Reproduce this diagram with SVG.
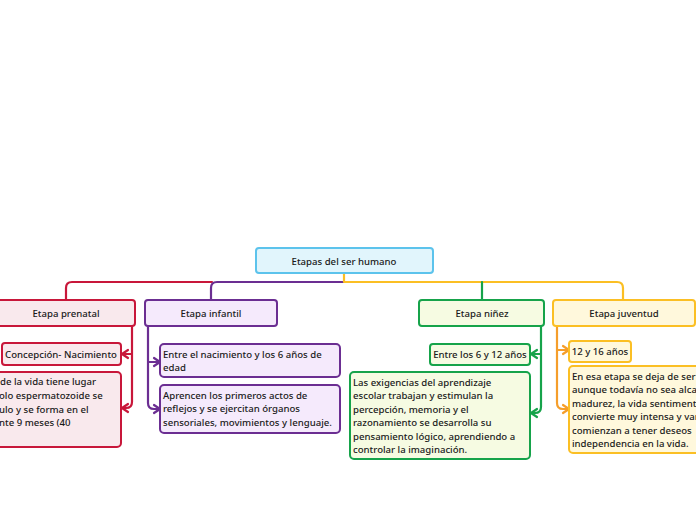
<svg xmlns="http://www.w3.org/2000/svg" width="696" height="520" viewBox="0 0 696 520">
<defs>
<style>
text{font-family:"Noto Sans","Open Sans","DejaVu Sans",sans-serif;font-size:9.6px;fill:#1a1a1a;font-weight:500}
.c{text-anchor:middle}
.ln{fill:none;stroke-width:2.2;stroke-linejoin:round;stroke-linecap:round}
.red{stroke:#c8173a}.pur{stroke:#6b2e92}.grn{stroke:#16a34a}.yel{stroke:#fbbf24}.org{stroke:#f59e2b}
.bx{stroke-width:2}
</style>
</defs>
<rect width="696" height="520" fill="#ffffff"/>
<g id="connectors">
<path class="ln red" d="M212 282 H72 Q66 282 66 288 V300"/>
<path class="ln pur" d="M344 282 H217 Q211 282 211 288 V300"/>
<path class="ln yel" d="M344 273 V282 H617 Q623 282 623 288 V300"/>
<path class="ln grn" d="M482 282 V300"/>
<path class="ln red" d="M132 326 V402 Q132 408 126 408 H122 M132 354 H122 M128 350 L122 354 L128 358 M128 404 L122 408 L128 412"/>
<path class="ln pur" d="M148 326 V403 Q148 409 154 409 H160 M148 362 H160 M154 358 L160 362 L154 366 M154 405 L160 409 L154 413"/>
<path class="ln grn" d="M541 326 V407 Q541 413 535 413 H531 M541 354 H531 M537 350 L531 354 L537 358 M537 409 L531 413 L537 417"/>
<path class="ln org" d="M557 326 V403 Q557 409 563 409 H569 M557 350 H569 M563 346 L569 350 L563 354 M563 405 L569 409 L563 413"/>
</g>
<g id="root">
<rect x="256" y="248" width="177" height="25" rx="3" fill="#e1f5fc" stroke="#5cc3ec" class="bx"/>
<text x="344" y="264.5" class="c">Etapas del ser humano</text>
</g>
<g id="prenatal">
<rect x="-10" y="300" width="145" height="26" rx="3" fill="#f9e9ed" stroke="#c8173a" class="bx"/>
<text x="66" y="316.5" class="c">Etapa prenatal</text>
</g>
<g id="concepcion">
<rect x="2" y="343" width="119" height="22" rx="3" fill="#f9e9ed" stroke="#c8173a" class="bx"/>
<text x="61" y="357.5" class="c">Concepción- Nacimiento</text>
</g>
<g id="prenatal-texto">
<rect x="-10" y="372" width="131" height="75" rx="4" fill="#f9e9ed" stroke="#c8173a" class="bx"/>
<text x="0" y="385">de la vida tiene lugar</text>
<text x="-1" y="399">olo  espermatozoide se</text>
<text x="-1" y="413">ulo y se forma en el</text>
<text x="-1" y="426">nte 9 meses (40</text>
</g>
<g id="infantil">
<rect x="145" y="300" width="132" height="26" rx="3" fill="#f5eafc" stroke="#6b2e92" class="bx"/>
<text x="211" y="316.5" class="c">Etapa infantil</text>
</g>
<g id="infantil-edad">
<rect x="160" y="344" width="180" height="33" rx="4" fill="#f5eafc" stroke="#6b2e92" class="bx"/>
<text x="163" y="358">Entre el nacimiento y los 6 años de</text>
<text x="163" y="371">edad</text>
</g>
<g id="infantil-texto">
<rect x="160" y="385" width="180" height="48" rx="4" fill="#f5eafc" stroke="#6b2e92" class="bx"/>
<text x="163" y="398.5">Aprencen los primeros actos de</text>
<text x="163" y="412">reflejos y se ejercitan órganos</text>
<text x="163" y="425.5">sensoriales, movimientos y lenguaje.</text>
</g>
<g id="ninez">
<rect x="419" y="300" width="125" height="26" rx="3" fill="#f6fbe2" stroke="#16a34a" class="bx"/>
<text x="482" y="316.5" class="c">Etapa niñez</text>
</g>
<g id="ninez-edad">
<rect x="430" y="344" width="100" height="21" rx="3" fill="#f6fbe2" stroke="#16a34a" class="bx"/>
<text x="480" y="357.5" class="c">Entre los 6 y 12 años</text>
</g>
<g id="ninez-texto">
<rect x="350" y="372" width="180" height="87" rx="4" fill="#f6fbe2" stroke="#16a34a" class="bx"/>
<text x="353" y="385.5">Las exigencias del aprendizaje</text>
<text x="353" y="399">escolar trabajan y estimulan la</text>
<text x="353" y="412.5">percepción, memoria y el</text>
<text x="353" y="426">razonamiento se desarrolla su</text>
<text x="353" y="439.5">pensamiento lógico, aprendiendo a</text>
<text x="353" y="453">controlar la imaginación.</text>
</g>
<g id="juventud">
<rect x="553" y="300" width="142" height="26" rx="3" fill="#fff8dc" stroke="#fbbf24" class="bx"/>
<text x="624" y="316.5" class="c">Etapa juventud</text>
</g>
<g id="juventud-edad">
<rect x="569" y="341" width="62" height="21" rx="3" fill="#fff8dc" stroke="#fbbf24" class="bx"/>
<text x="600" y="355" class="c">12 y 16 años</text>
</g>
<g id="juventud-texto">
<rect x="569" y="366" width="140" height="87" rx="4" fill="#fff8dc" stroke="#fbbf24" class="bx"/>
<text x="572" y="379.5">En esa etapa se deja de ser</text>
<text x="572" y="393">aunque todavía no sea alca</text>
<text x="572" y="406.5">madurez, la vida sentiment</text>
<text x="572" y="420">convierte muy intensa y var</text>
<text x="572" y="433.5">comienzan a tener deseos</text>
<text x="572" y="447">independencia en la vida.</text>
</g>
</svg>
